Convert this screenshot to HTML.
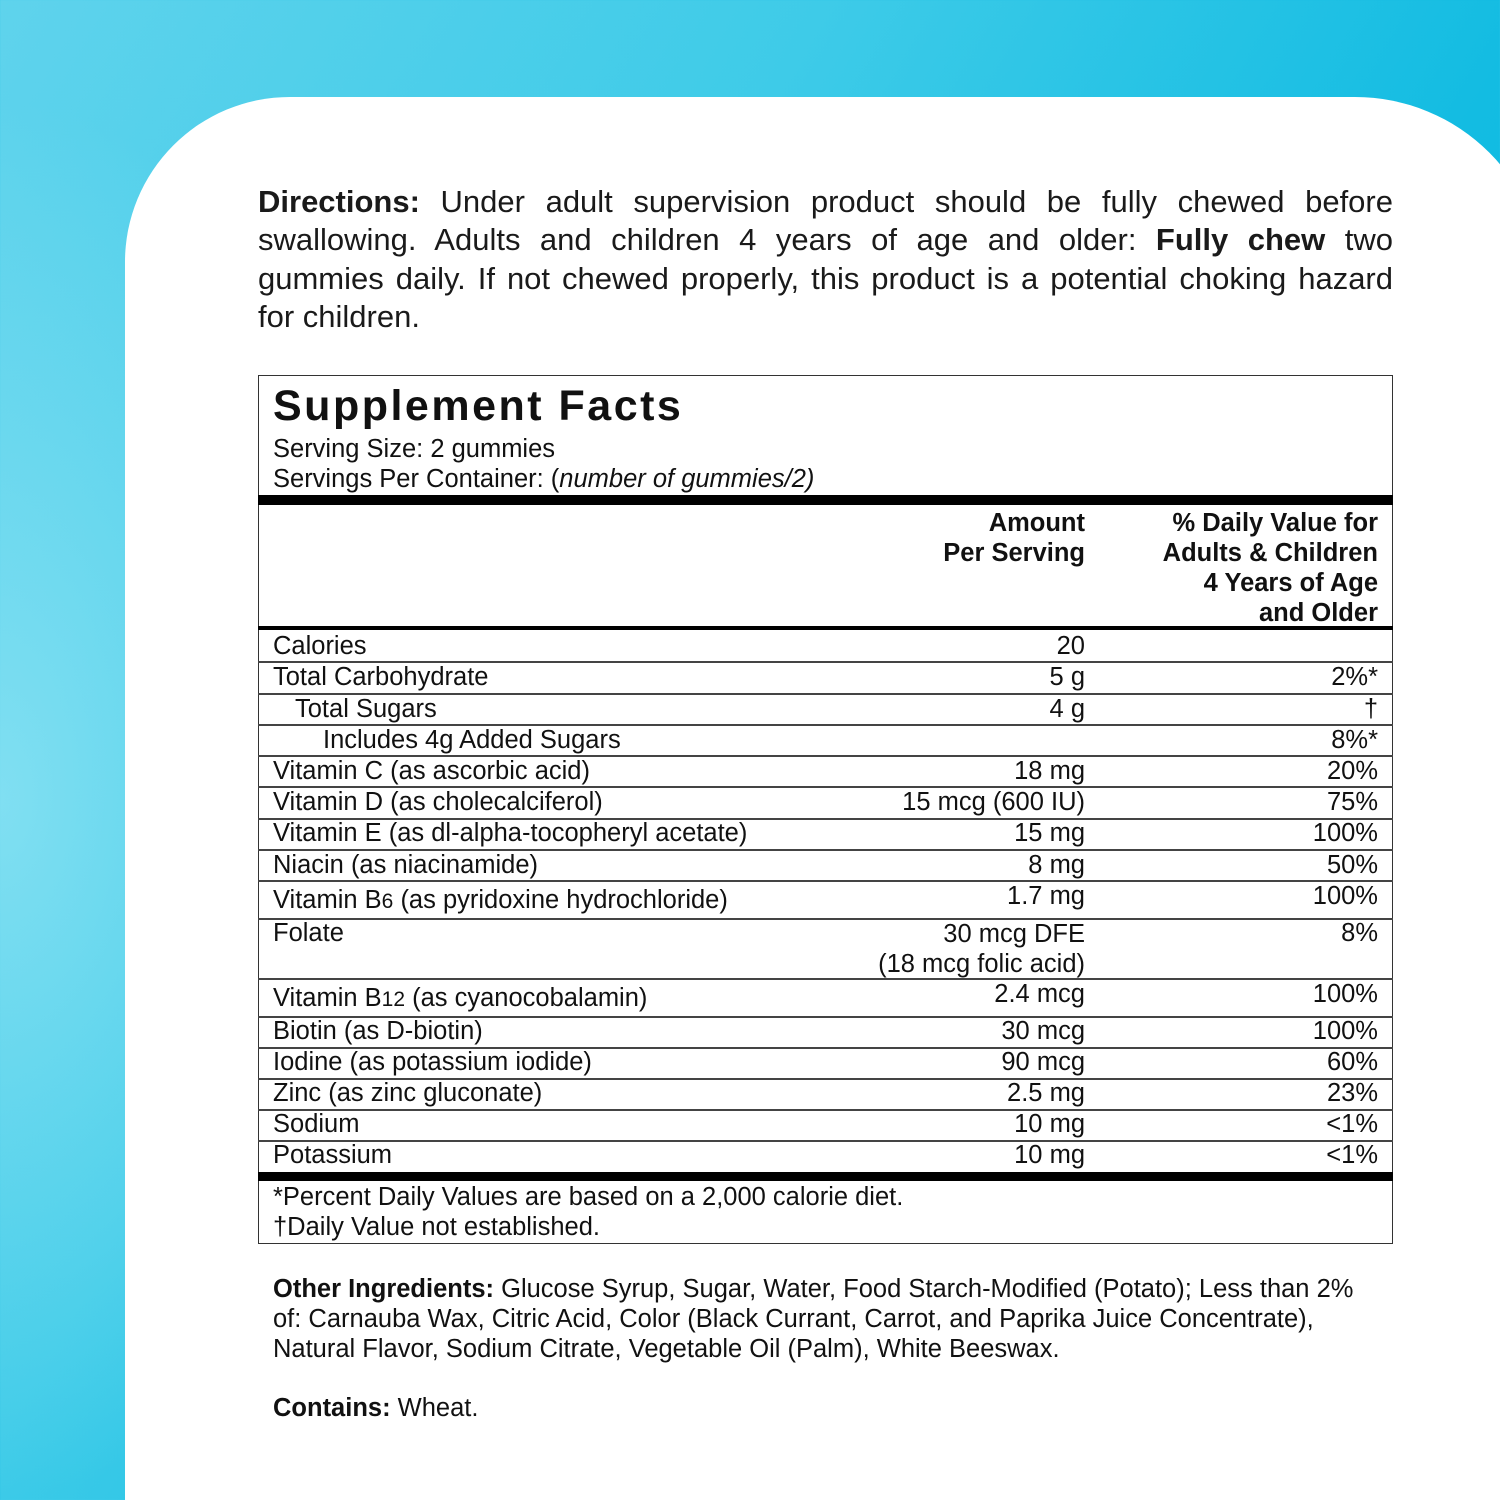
<!DOCTYPE html>
<html><head><meta charset="utf-8"><style>
*{margin:0;padding:0;box-sizing:border-box}
html,body{width:1500px;height:1500px;overflow:hidden}
body{position:relative;font-family:"Liberation Sans",sans-serif;color:#111;
background:linear-gradient(120deg,#5fd3ec 0%,#3ecbe8 35%,#13bce2 65%,#06b4de 100%);}
.bgl{position:absolute;left:0;top:0;width:1500px;height:1500px;background:radial-gradient(ellipse 400px 700px at 0px 800px,rgba(150,230,245,.7),rgba(150,230,245,0));}
.panel{position:absolute;left:125px;top:97px;width:1420px;height:1403px;background:#fff;border-radius:165px 190px 0 0;}
.t{position:absolute;white-space:nowrap}
.dl{position:absolute;left:258px;width:1135px;font-size:31px;line-height:38.5px;text-align:justify;text-align-last:justify;color:#1a1a1a;white-space:nowrap}
.box{position:absolute;left:258px;top:375px;width:1135px;height:869px;border:1.5px solid #333}
.h{position:absolute;left:258px;width:1135px;background:#000}
.ln{position:absolute;left:258px;width:1135px;height:1.5px;background:#444}
.r{font-size:25.5px}
.a{position:absolute;right:415px;text-align:right;white-space:nowrap;font-size:25.5px}
.d{position:absolute;right:122px;text-align:right;white-space:nowrap;font-size:25.5px}
</style></head><body>
<div class="bgl"></div>
<div class="panel"></div>
<div class="dl" style="top:183px"><b>Directions:</b> Under adult supervision product should be fully chewed before</div>
<div class="dl" style="top:221px">swallowing. Adults and children 4 years of age and older: <b>Fully chew</b> two</div>
<div class="dl" style="top:260px">gummies daily. If not chewed properly, this product is a potential choking hazard</div>
<div class="dl" style="top:298px;text-align-last:left">for children.</div>
<div class="box"></div>
<div class="t" style="left:273px;top:382px;font-size:43px;font-weight:bold;letter-spacing:2.5px">Supplement Facts</div>
<div class="t r" style="left:273px;top:435px">Serving Size: 2 gummies</div>
<div class="t r" style="left:273px;top:465px">Servings Per Container: (<i>number of gummies/2)</i></div>
<div class="h" style="top:495px;height:10px"></div>
<div class="a" style="top:508px;font-weight:bold;line-height:30px">Amount<br>Per Serving</div>
<div class="d" style="top:508px;font-weight:bold;line-height:30px">% Daily Value for<br>Adults &amp; Children<br>4 Years of Age<br>and Older</div>
<div class="h" style="top:626px;height:4px"></div>
<div class="t r" style="left:273px;top:632px">Calories</div><div class="a" style="top:632px">20</div>
<div class="ln" style="top:661px"></div>
<div class="t r" style="left:273px;top:663px">Total Carbohydrate</div><div class="a" style="top:663px">5 g</div><div class="d" style="top:663px">2%*</div>
<div class="ln" style="top:693px"></div>
<div class="t r" style="left:295px;top:695px">Total Sugars</div><div class="a" style="top:695px">4 g</div><div class="d" style="top:695px">†</div>
<div class="ln" style="top:724px"></div>
<div class="t r" style="left:323px;top:726px">Includes 4g Added Sugars</div><div class="d" style="top:726px">8%*</div>
<div class="ln" style="top:755px"></div>
<div class="t r" style="left:273px;top:757px">Vitamin C (as ascorbic acid)</div><div class="a" style="top:757px">18 mg</div><div class="d" style="top:757px">20%</div>
<div class="ln" style="top:786px"></div>
<div class="t r" style="left:273px;top:788px">Vitamin D (as cholecalciferol)</div><div class="a" style="top:788px">15 mcg (600 IU)</div><div class="d" style="top:788px">75%</div>
<div class="ln" style="top:818px"></div>
<div class="t r" style="left:273px;top:819px">Vitamin E (as dl-alpha-tocopheryl acetate)</div><div class="a" style="top:819px">15 mg</div><div class="d" style="top:819px">100%</div>
<div class="ln" style="top:849px"></div>
<div class="t r" style="left:273px;top:851px">Niacin (as niacinamide)</div><div class="a" style="top:851px">8 mg</div><div class="d" style="top:851px">50%</div>
<div class="ln" style="top:880px"></div>
<div class="t r" style="left:273px;top:886px">Vitamin B<span style="font-size:21px">6</span> (as pyridoxine hydrochloride)</div><div class="a" style="top:882px">1.7 mg</div><div class="d" style="top:882px">100%</div>
<div class="ln" style="top:918px"></div>
<div class="t r" style="left:273px;top:919px">Folate</div><div class="a" style="top:919px;line-height:30px">30 mcg DFE<br>(18 mcg folic acid)</div><div class="d" style="top:919px">8%</div>
<div class="ln" style="top:978px"></div>
<div class="t r" style="left:273px;top:984px">Vitamin B<span style="font-size:21px">12</span> (as cyanocobalamin)</div><div class="a" style="top:980px">2.4 mcg</div><div class="d" style="top:980px">100%</div>
<div class="ln" style="top:1016px"></div>
<div class="t r" style="left:273px;top:1017px">Biotin (as D-biotin)</div><div class="a" style="top:1017px">30 mcg</div><div class="d" style="top:1017px">100%</div>
<div class="ln" style="top:1047px"></div>
<div class="t r" style="left:273px;top:1048px">Iodine (as potassium iodide)</div><div class="a" style="top:1048px">90 mcg</div><div class="d" style="top:1048px">60%</div>
<div class="ln" style="top:1078px"></div>
<div class="t r" style="left:273px;top:1079px">Zinc (as zinc gluconate)</div><div class="a" style="top:1079px">2.5 mg</div><div class="d" style="top:1079px">23%</div>
<div class="ln" style="top:1109px"></div>
<div class="t r" style="left:273px;top:1110px">Sodium</div><div class="a" style="top:1110px">10 mg</div><div class="d" style="top:1110px">&lt;1%</div>
<div class="ln" style="top:1140px"></div>
<div class="t r" style="left:273px;top:1141px">Potassium</div><div class="a" style="top:1141px">10 mg</div><div class="d" style="top:1141px">&lt;1%</div>
<div class="h" style="top:1172px;height:9px"></div>
<div class="t r" style="left:273px;top:1183px">*Percent Daily Values are based on a 2,000 calorie diet.</div>
<div class="t r" style="left:273px;top:1213px">†Daily Value not established.</div>
<div class="t r" style="left:273px;top:1274px;line-height:30px"><b>Other Ingredients:</b> Glucose Syrup, Sugar, Water, Food Starch-Modified (Potato); Less than 2%<br>of: Carnauba Wax, Citric Acid, Color (Black Currant, Carrot, and Paprika Juice Concentrate),<br>Natural Flavor, Sodium Citrate, Vegetable Oil (Palm), White Beeswax.</div>
<div class="t r" style="left:273px;top:1394px"><b>Contains:</b> Wheat.</div>
</body></html>
